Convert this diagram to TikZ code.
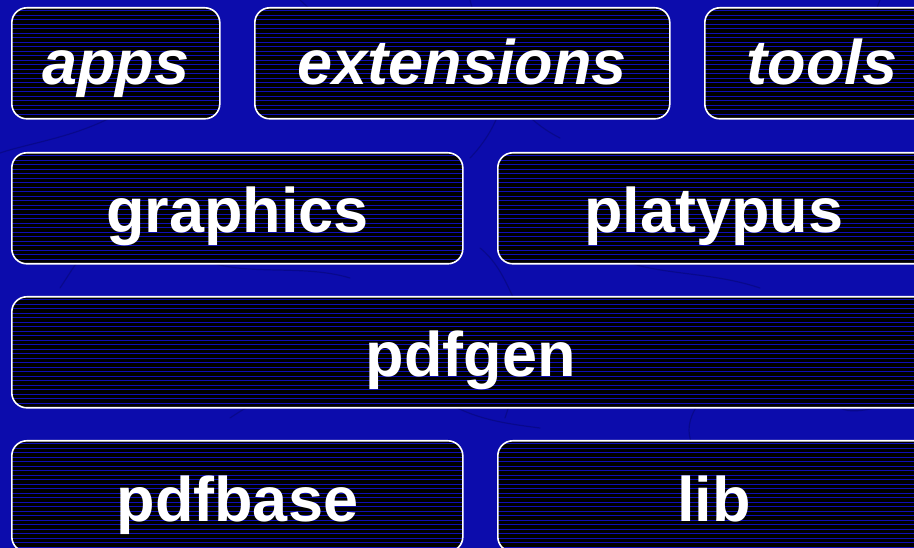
\documentclass[tikz,border=0pt]{standalone}
\usepackage{fontspec}
\setmainfont{Liberation Sans}
\begin{document}
\begin{tikzpicture}[x=1pt,y=1pt]
\definecolor{bgblue}{RGB}{12,12,172}
\definecolor{crack}{RGB}{6,6,110}
\definecolor{stripeblue}{RGB}{14,14,185}
\tikzset{
  blk/.style={draw=white, line width=1.6pt, rounded corners=15pt, fill=black,
    inner sep=0pt, anchor=north west, text=white,
    text height=49pt, text depth=0pt,
    font=\bfseries\fontsize{63}{63}\selectfont,
    path picture={
      \foreach \k in {0,...,26}
        \draw[stripeblue, line width=0.8pt]
          ([yshift=-3pt-\k*4.5pt]path picture bounding box.north west) --
          ([yshift=-3pt-\k*4.5pt]path picture bounding box.north east);
    }},
  ital/.style={font=\bfseries\itshape\fontsize{63}{63}\selectfont, text height=43pt},
  crk/.style={crack, line width=1.2pt, opacity=0.5, line cap=round}
}
\fill[bgblue] (0,0) rectangle (914,548);
\useasboundingbox (0,0) rectangle (914,548);
% background cracks
\draw[crk] (470,548) .. controls (490,470) and (520,430) .. (560,410);
\draw[crk] (500,440) .. controls (495,420) and (480,400) .. (470,390);
\draw[crk] (480,300) .. controls (505,280) and (510,250) .. (525,230);
\draw[crk] (0,395) .. controls (30,405) and (70,410) .. (110,430) .. controls (130,440) and (150,450) .. (170,470);
\draw[crk] (60,260) .. controls (80,290) and (90,310) .. (120,330);
\draw[crk] (505,130) .. controls (515,160) and (520,180) .. (515,210);
\draw[crk] (440,150) .. controls (470,130) and (500,125) .. (540,120);
\draw[crk] (700,0) .. controls (690,30) and (700,70) .. (690,110) .. controls (685,130) and (700,150) .. (720,170);
\draw[crk] (20,0) .. controls (30,30) and (20,60) .. (40,90);
\draw[crk] (300,548) .. controls (330,520) and (360,500) .. (380,460);
\draw[crk] (880,548) .. controls (860,500) and (870,470) .. (900,440);
\draw[crk] (600,300) .. controls (640,270) and (700,280) .. (760,260);
\draw[crk] (200,290) .. controls (240,270) and (300,285) .. (350,270);
\draw[crk] (230,130) .. controls (260,150) and (280,160) .. (320,150);
\draw[crk] (840,140) .. controls (860,130) and (890,150) .. (914,140);
% boxes (y = 548 - pixel y)
\node[blk, ital, minimum width=208pt, minimum height=111pt] (apps) at (11,541) {apps};
\node[blk, ital, minimum width=415pt, minimum height=111pt] (extensions) at (254,541) {extensions};
\node[blk, ital, minimum width=234pt, minimum height=111pt] (tools) at (704,541) {tools};
\node[blk, minimum width=451pt, minimum height=111pt] (graphics) at (11,396) {graphics};
\node[blk, minimum width=432pt, minimum height=111pt] (platypus) at (497,396) {platypus};
\node[blk, minimum width=918pt, minimum height=111pt] (pdfgen) at (11,252) {pdfgen};
\node[blk, minimum width=451pt, minimum height=111pt, text height=51pt] (pdfbase) at (11,108) {pdfbase};
\node[blk, minimum width=432pt, minimum height=111pt, text height=51pt] (lib) at (497,108) {lib};
\end{tikzpicture}
\end{document}
